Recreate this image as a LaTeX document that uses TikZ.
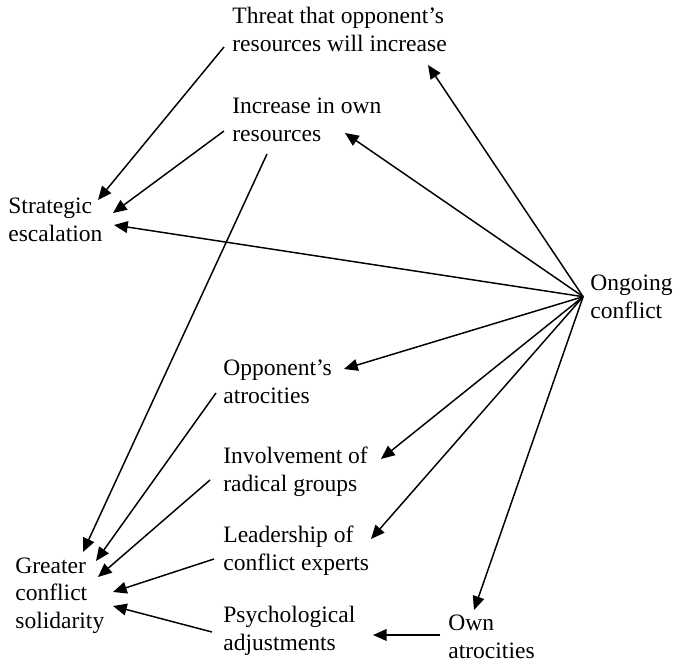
\documentclass[tikz,border=0pt]{standalone}
\usepackage{fontspec}
\setmainfont{Liberation Serif}
\usetikzlibrary{arrows.meta,calc,positioning}

\begin{document}
\begin{tikzpicture}[x=0.51pt,y=-0.51pt,
	lbl/.style={anchor=base west,inner sep=0pt,align=left,
		font=\fontsize{12pt}{13.9pt}\selectfont},
	arr/.style={line width=0.75pt,-{Triangle[length=7pt,width=6pt]}}]
	\useasboundingbox (0,0) rectangle (676,660);
	% labels (placed at the baseline of their last line)
	\node[lbl] (threat) at (232,51) {Threat that opponent's\\resources will increase};
	\node[lbl] (incr) at (232,141) {Increase in own\\resources};
	\node[lbl] (strat) at (8,241) {Strategic\\escalation};
	\node[lbl] (ongo) at (590,318) {Ongoing\\conflict};
	\node[lbl] (oppo) at (223,403) {Opponent's\\atrocities};
	\node[lbl] (invol) at (223,491) {Involvement of\\radical groups};
	\node[lbl] (lead) at (223,570) {Leadership of\\conflict experts};
	\node[lbl] (great) at (15,628) {Greater\\conflict\\solidarity};
	\node[lbl] (psych) at (223,650) {Psychological\\adjustments};
	\node[lbl] (own) at (448,658) {Own\\atrocities};
	\coordinate (hub) at ([xshift=-3.5pt]ongo.west);
	% from ongoing conflict
	\draw[arr] (hub) to ($(threat.base west)+(196,14)$);
	\draw[arr] (hub) to ($(incr.base west)+(113,-8)$);
	\draw[arr] (hub) to ($(strat.base west)+(106,-16)$);
	\draw[arr] (hub) to ($(oppo.base west)+(121,-34)$);
	\draw[arr] (hub) to ($(invol.base west)+(158,-32)$);
	\draw[arr] (hub) to ($(lead.base west)+(148,-31)$);
	\draw[arr] (hub) to ($(own.base west)+(26,-48)$);
	% into strategic escalation
	\draw[arr] ($(threat.base west)+(-8,-4)$) to ($(strat.base west)+(90,-41)$);
	\draw[arr] ($(incr.base west)+(-8,-10)$) to ($(strat.base west)+(105,-28)$);
	% into greater conflict solidarity
	\draw[arr] ($(incr.base west)+(35,13)$) to ($(great.base west)+(68,-76)$);
	\draw[arr] ($(oppo.base west)+(-7,-10)$) to ($(great.base west)+(81,-67)$);
	\draw[arr] ($(invol.base west)+(-13,-11)$) to ($(great.base west)+(83,-51)$);
	\draw[arr] ($(lead.base west)+(-9,-11)$) to ($(great.base west)+(98,-36)$);
	\draw[arr] ($(psych.base west)+(-11,-18)$) to ($(great.base west)+(98,-22)$);
	\draw[arr] ($(own.base west)+(-8,-23)$) to ($(psych.base west)+(150,-15)$);
\end{tikzpicture}
\end{document}
